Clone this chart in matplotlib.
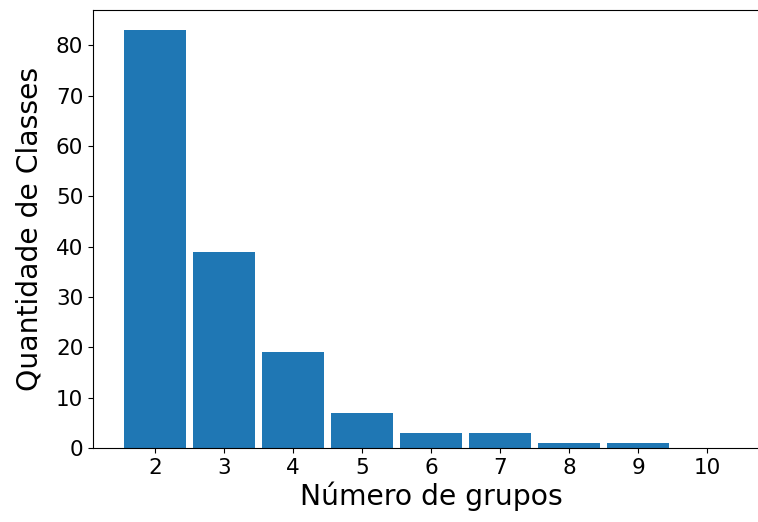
import matplotlib
matplotlib.use("Agg")
import matplotlib.pyplot as plt

grupos = [2, 3, 4, 5, 6, 7, 8, 9, 10]
quantidade = [83, 39, 19, 7, 3, 3, 1, 1, 0]

fig = plt.figure(figsize=(7.58, 5.22), dpi=100)
# The reference is clipped on the right: the axes extend past the figure edge
ax = fig.add_axes([93/758, 1 - 448/522, (769-93)/758, (448-9.5)/522])
ax.bar(grupos, quantidade, width=0.9, color="#1f77b4")
ax.set_xlim(1.105, 10.895)
ax.set_ylim(0, 87.15)
ax.set_xticks(grupos)
ax.set_yticks([0, 10, 20, 30, 40, 50, 60, 70, 80])
ax.tick_params(labelsize=15.5)
ax.set_xlabel("Número de grupos", fontsize=20.3, labelpad=3)
ax.set_ylabel("Quantidade de Classes", fontsize=20.3, labelpad=9)
fig.savefig("out.png", dpi=100)
